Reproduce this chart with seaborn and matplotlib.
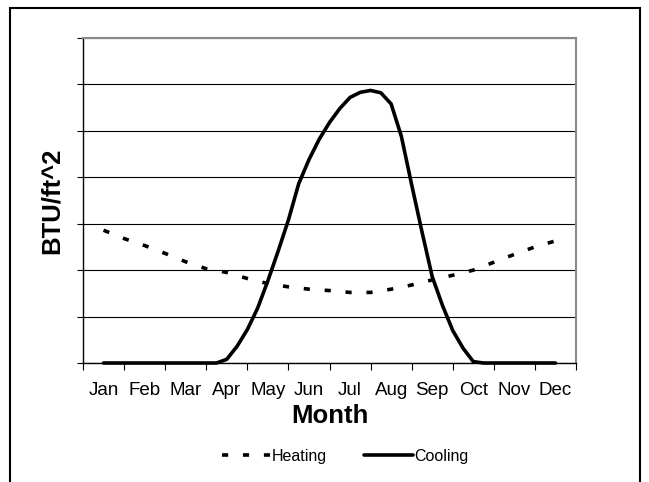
#!/usr/bin/env python3
# coding: utf-8

import numpy as np
import seaborn as sns
import matplotlib
from matplotlib import pyplot as plt
from matplotlib.patches import Rectangle

sns.set_style("white")
matplotlib.rcParams['font.family'] = ['Liberation Sans', 'DejaVu Sans']
for k in ['text.color', 'axes.labelcolor', 'xtick.color', 'ytick.color']:
    matplotlib.rcParams[k] = 'black'

months = ["Jan", "Feb", "Mar", "Apr", "May", "Jun",
          "Jul", "Aug", "Sep", "Oct", "Nov", "Dec"]

# heating read every half month (0 = Jan)
heat_x = [0, 0.5, 1, 1.5, 2, 2.5, 3, 3.5, 4, 4.5, 5, 5.5,
          6, 6.5, 7, 7.5, 8, 8.5, 9, 9.5, 10, 10.5, 11]
heating = [2.86, 2.68, 2.53, 2.36, 2.18, 2.03, 1.95, 1.82, 1.71, 1.64, 1.59, 1.56,
           1.52, 1.52, 1.59, 1.68, 1.79, 1.89, 2.00, 2.17, 2.34, 2.50, 2.63]

# cooling read every quarter month
cool_x = [0, 0.5, 1, 1.5, 2, 2.5, 2.75, 3, 3.25, 3.5, 3.75, 4, 4.25, 4.5, 4.75,
          5, 5.25, 5.5, 5.75, 6, 6.25, 6.5, 6.75, 7, 7.25, 7.5, 7.75,
          8, 8.25, 8.5, 8.75, 9, 9.25, 9.5, 10, 10.5, 11]
cooling = [0, 0, 0, 0, 0, 0, 0, 0.08, 0.36, 0.72, 1.18, 1.77, 2.41, 3.08, 3.86,
           4.38, 4.82, 5.18, 5.48, 5.72, 5.83, 5.87, 5.82, 5.58, 4.88, 3.84, 2.83,
           1.86, 1.24, 0.70, 0.32, 0.03, 0, 0, 0, 0, 0]

fig = plt.figure(figsize=[6.49, 4.82], dpi=100)
ax = fig.add_axes([83 / 649, 1 - 363 / 482, 493 / 649, 325 / 482])

sns.lineplot(x=heat_x, y=heating, ax=ax, color="black", lw=2.6,
             linestyle=(0, (1.7, 4.1)), label="Heating")
sns.lineplot(x=cool_x, y=cooling, ax=ax, color="black", lw=2.6,
             label="Cooling", clip_on=False)

ax.set_xlim(-0.5, 11.5)
ax.set_ylim(0, 7)
ax.set_yticks(range(0, 8))
ax.set_yticklabels([])
ax.set_xticks(np.arange(-0.5, 12, 1))
ax.set_xticklabels([])
ax.set_xticks(range(12), minor=True)
ax.set_xticklabels(months, minor=True, fontsize=13.5)
ax.tick_params(axis="x", which="major", direction="out", length=5, width=0.8,
               bottom=True)
ax.tick_params(axis="x", which="minor", length=0, pad=13.5)
ax.tick_params(axis="y", direction="out", length=4.5, width=0.8, left=True)

ax.yaxis.grid(True, color="black", lw=0.8)
ax.set_axisbelow(True)
for s in ["left", "bottom"]:
    ax.spines[s].set_color("black")
    ax.spines[s].set_linewidth(1.0)
for s in ["top", "right"]:
    ax.spines[s].set_color("#8a8a8a")
    ax.spines[s].set_linewidth(1.5)

ax.set_xlabel("Month", fontsize=18.5, fontweight="bold", labelpad=4)
ax.set_ylabel("BTU/ft^2", fontsize=18.5, fontweight="bold", labelpad=6)

handles, labels = ax.get_legend_handles_labels()
ax.get_legend().remove()
fig.legend(handles, labels, loc="center", bbox_to_anchor=(345 / 649, 1 - 456 / 482),
           ncol=2, frameon=False, fontsize=11.5, handlelength=3.1,
           handletextpad=0.05, columnspacing=2.3)

# chart border
fig.patches.append(Rectangle((10 / 649, -0.1), 630 / 649, 1.1 - 8 / 482,
                             transform=fig.transFigure, fill=False,
                             edgecolor="black", lw=1.5))

plt.savefig("out.png", dpi=100)
